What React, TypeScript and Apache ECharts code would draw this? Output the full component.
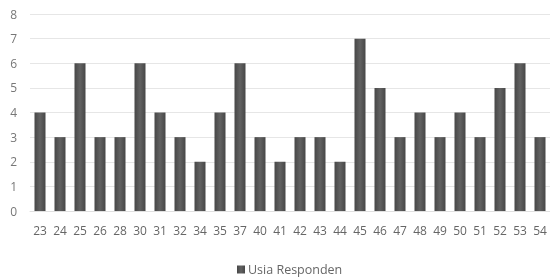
import React, { useEffect, useRef } from "react";
import * as echarts from "echarts";

const categories = ["23","24","25","26","28","30","31","32","34","35","37","40","41","42","43","44","45","46","47","48","49","50","51","52","53","54"];
const values = [4,3,6,3,3,6,4,3,2,4,6,3,2,3,3,2,7,5,3,4,3,4,3,5,6,3];
const seriesName = "Usia Responden";

export default function App() {
  const ref = useRef<HTMLDivElement>(null);
  useEffect(() => {
    const chart = echarts.init(ref.current!, null, { renderer: "svg" });
    chart.setOption({
      animation: false,
      grid: { left: 30, right: 0, top: 14, bottom: 67 },
      legend: {
        data: [{ name: seriesName, icon: "rect" }],
        left: 232,
        top: 258,
        itemWidth: 8,
        itemHeight: 8,
        itemGap: 3,
        textStyle: { color: "#666", fontSize: 12.5, fontFamily: "Open Sans", padding: [0, 0, 0, -2] },
      },
      xAxis: {
        type: "category",
        data: categories,
        axisLine: { show: true, lineStyle: { color: "#e0e0e0" } },
        axisTick: { show: false },
        axisLabel: { color: "#666", fontSize: 12, fontFamily: "Open Sans", margin: 13, interval: 0 },
      },
      yAxis: {
        type: "value",
        min: 0,
        max: 8,
        interval: 1,
        axisLine: { show: false },
        axisTick: { show: false },
        splitLine: { lineStyle: { color: "#e6e6e6" } },
        axisLabel: { color: "#777", fontSize: 12, fontFamily: "Open Sans", margin: 13 },
      },
      series: [
        {
          name: seriesName,
          type: "bar",
          data: values,
          barWidth: 11,
          itemStyle: {
            color: new echarts.graphic.LinearGradient(0, 0, 1, 0, [
              { offset: 0, color: "#474747" },
              { offset: 0.5, color: "#626262" },
              { offset: 1, color: "#474747" },
            ]),
          },
        },
      ],
    });
    return () => chart.dispose();
  }, []);
  return <div ref={ref} style={{ position: "fixed", left: 0, top: 0, width: 550, height: 278 }} />;
}
